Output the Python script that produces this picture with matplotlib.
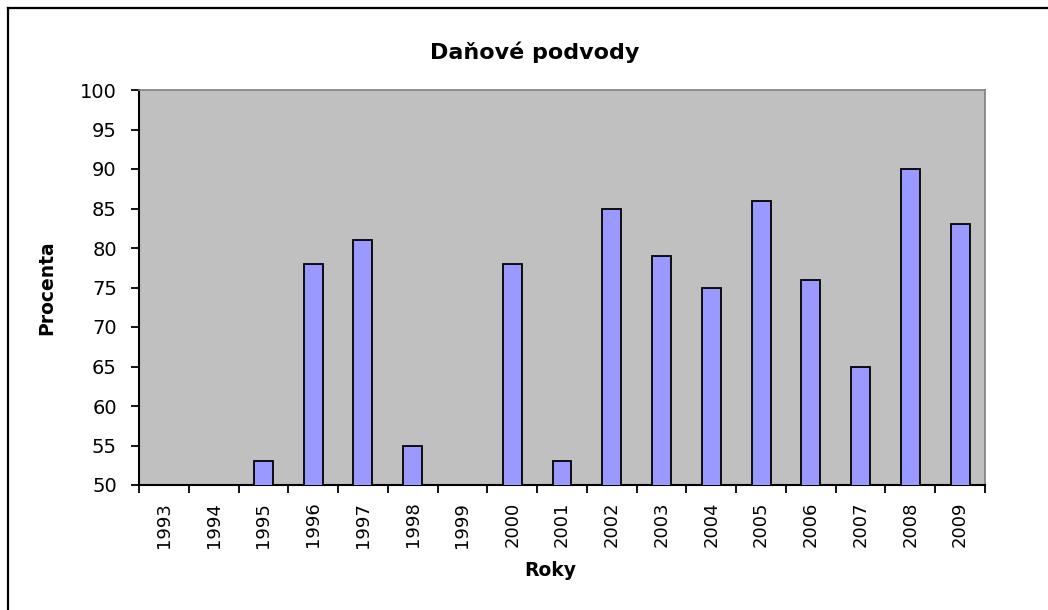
import numpy as np
import matplotlib
matplotlib.use("Agg")
import matplotlib.pyplot as plt
from matplotlib.lines import Line2D

years = ["1993", "1994", "1995", "1996", "1997", "1998", "1999", "2000", "2001",
         "2002", "2003", "2004", "2005", "2006", "2007", "2008", "2009"]
values = [np.nan, np.nan, 53, 78, 81, 55, np.nan, 78, 53,
          85, 79, 75, 86, 76, 65, 90, 83]
yticks = [50, 55, 60, 65, 70, 75, 80, 85, 90, 95, 100]

title = "Daňové podvody"
xlabel = "Roky"
ylabel = "Procenta"

plt.rcParams['font.family'] = ['DejaVu Sans']

fig = plt.figure(figsize=(10.48, 6.10), dpi=100)
fig.patch.set_facecolor("white")

# figure border (top & left visible)
fig.add_artist(Line2D([8/1048, 8/1048], [0, 1 - 8/610], transform=fig.transFigure,
                      color="black", linewidth=1.6))
fig.add_artist(Line2D([8/1048, 1], [1 - 8/610, 1 - 8/610], transform=fig.transFigure,
                      color="black", linewidth=1.6))

ax = fig.add_axes([139/1048, 1 - 485/610, 846/1048, 395/610])
ax.set_facecolor("#C0C0C0")

x = np.arange(len(years))
ax.bar(x, values, width=0.38, color="#9999FF", edgecolor="black", linewidth=1.3, zorder=3)

ax.set_xlim(-0.5, len(years) - 0.5)
ax.set_ylim(50, 100)
ax.set_yticks(yticks)
ax.set_yticklabels([str(v) for v in yticks], fontsize=14)
ax.set_xticks(x)
ax.set_xticklabels(years, rotation=90, fontsize=13)
ax.set_xticks(np.arange(-0.5, len(years), 1.0), minor=True)
ax.tick_params(axis='x', which='major', length=0, pad=12)
ax.tick_params(axis='x', which='minor', length=6, width=1.3, direction='out')
ax.tick_params(axis='y', which='major', length=6, width=1.3, direction='out', pad=10)

for s in ['left', 'bottom']:
    ax.spines[s].set_color('black')
    ax.spines[s].set_linewidth(1.5)
for s in ['top', 'right']:
    ax.spines[s].set_color('#808080')
    ax.spines[s].set_linewidth(1.2)

fig.text(535/1048, 1 - 52/610, title, ha='center', va='center', fontsize=16, fontweight='bold')
fig.text(550/1048, 1 - 571/610, xlabel, ha='center', va='center', fontsize=13.5, fontweight='bold')
fig.text(47/1048, 1 - 288/610, ylabel, ha='center', va='center', rotation=90, fontsize=13.5, fontweight='bold')

fig.savefig("out.png", dpi=100)
